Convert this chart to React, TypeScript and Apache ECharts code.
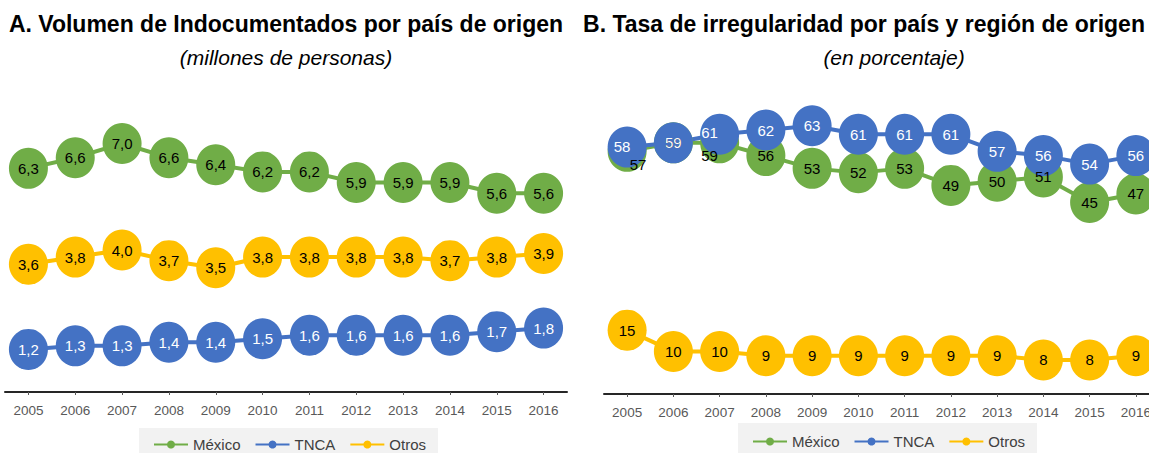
import React, { useEffect, useRef } from 'react';
import * as echarts from 'echarts';

const years = ['2005', '2006', '2007', '2008', '2009', '2010', '2011', '2012', '2013', '2014', '2015', '2016'];
const seriesNames = ['México', 'TNCA', 'Otros'];

// A. Volumen de indocumentados (millones de personas)
const volumeMexico = [6.3, 6.6, 7.0, 6.6, 6.4, 6.2, 6.2, 5.9, 5.9, 5.9, 5.6, 5.6];
const volumeTNCA = [1.2, 1.3, 1.3, 1.4, 1.4, 1.5, 1.6, 1.6, 1.6, 1.6, 1.7, 1.8];
const volumeOtros = [3.6, 3.8, 4.0, 3.7, 3.5, 3.8, 3.8, 3.8, 3.8, 3.7, 3.8, 3.9];

// B. Tasa de irregularidad (porcentaje)
const rateMexico = [57, 59, 59, 56, 53, 52, 53, 49, 50, 51, 45, 47];
const rateTNCA = [58, 59, 61, 62, 63, 61, 61, 61, 57, 56, 54, 56];
const rateOtros = [15, 10, 10, 9, 9, 9, 9, 9, 9, 8, 8, 9];

const titleA = 'A. Volumen de Indocumentados por país de origen';
const subtitleA = '(millones de personas)';
const titleB = 'B. Tasa de irregularidad por país y región de origen';
const subtitleB = '(en porcentaje)';

const colors: Record<string, string> = { 'México': '#70AD47', TNCA: '#4472C4', Otros: '#FFC000' };
const labelColors: Record<string, string> = { 'México': '#000000', TNCA: '#FFFFFF', Otros: '#000000' };
const FONT = '"Liberation Sans", Arial, sans-serif';

// label nudges for overlapping points in panel B (style only)
const labelOffsetsB: Record<string, Record<number, number[]>> = {
  'México': { 0: [11, 13], 2: [-10, 13] },
  TNCA: { 0: [-5, -1], 2: [-10, -2] },
};

function makeSeries(name: string, values: number[], idx: number, decimals: number, offsets?: Record<number, number[]>) {
  return {
    type: 'line',
    name,
    xAxisIndex: idx,
    yAxisIndex: idx,
    data: values.map((v, i) => {
      const off = offsets && offsets[i];
      return off ? { value: v, label: { offset: off } } : v;
    }),
    symbol: 'circle',
    symbolSize: [39, 41],
    itemStyle: { color: colors[name] },
    lineStyle: { color: colors[name], width: 4 },
    label: {
      show: true,
      position: 'inside',
      color: labelColors[name],
      fontSize: 15,
      fontFamily: FONT,
      formatter: (p: any) => {
        const v = typeof p.value === 'number' ? p.value : p.data.value;
        return decimals ? v.toFixed(decimals).replace('.', ',') : String(v);
      },
    },
    emphasis: { disabled: true },
    clip: false,
    z: 2,
  };
}

function xAxisCfg(gridIndex: number) {
  return {
    type: 'category',
    gridIndex,
    data: years,
    boundaryGap: true,
    axisLine: { show: true, lineStyle: { color: '#262626', width: 2 } },
    axisTick: { show: true, alignWithLabel: true, length: 3, lineStyle: { color: '#595959' } },
    axisLabel: { color: '#595959', fontSize: 13.5, fontFamily: FONT, margin: 11 },
    splitLine: { show: false },
  };
}

export default function App() {
  const ref = useRef<HTMLDivElement>(null);
  useEffect(() => {
    if (!ref.current) return;
    const chart = echarts.init(ref.current, null, { renderer: 'svg' });
    const legendBase = {
      data: seriesNames,
      orient: 'horizontal',
      itemWidth: 34,
      itemHeight: 10,
      itemGap: 14,
      backgroundColor: '#F2F2F2',
      textStyle: { color: '#404040', fontSize: 15, fontFamily: FONT },
    };
    chart.setOption({
      animation: false,
      textStyle: { fontFamily: FONT },
      graphic: [
        { type: 'text', x: 286, y: 24, style: { text: titleA, font: `bold 23px ${FONT}`, fill: '#000', textAlign: 'center', textVerticalAlign: 'middle' } },
        { type: 'text', x: 286, y: 57, style: { text: subtitleA, font: `italic 21px ${FONT}`, fill: '#000', textAlign: 'center', textVerticalAlign: 'middle' } },
        { type: 'text', x: 864, y: 24, style: { text: titleB, font: `bold 23px ${FONT}`, fill: '#000', textAlign: 'center', textVerticalAlign: 'middle' } },
        { type: 'text', x: 894, y: 57, style: { text: subtitleB, font: `italic 21px ${FONT}`, fill: '#000', textAlign: 'center', textVerticalAlign: 'middle' } },
      ],
      legend: [
        { ...legendBase, left: 139, top: 428, padding: [9, 12, 12, 14] },
        { ...legendBase, left: 738, top: 423, padding: [11, 12, 12, 14] },
      ],
      grid: [
        { left: 5, top: 108, width: 562, height: 284, containLabel: false, outerBoundsMode: 'none' },
        { left: 604, top: 96, width: 555, height: 298, containLabel: false, outerBoundsMode: 'none' },
      ],
      xAxis: [xAxisCfg(0), xAxisCfg(1)],
      yAxis: [
        { type: 'value', gridIndex: 0, min: 0, max: 8, show: false, splitLine: { show: false } },
        { type: 'value', gridIndex: 1, min: 0, max: 70, show: false, splitLine: { show: false } },
      ],
      series: [
        makeSeries('México', volumeMexico, 0, 1),
        makeSeries('TNCA', volumeTNCA, 0, 1),
        makeSeries('Otros', volumeOtros, 0, 1),
        makeSeries('México', rateMexico, 1, 0, labelOffsetsB['México']),
        makeSeries('TNCA', rateTNCA, 1, 0, labelOffsetsB.TNCA),
        makeSeries('Otros', rateOtros, 1, 0),
      ],
    });
    return () => chart.dispose();
  }, []);
  return <div ref={ref} style={{ position: 'fixed', left: 0, top: 0, width: 1149, height: 453, background: '#fff' }} />;
}
